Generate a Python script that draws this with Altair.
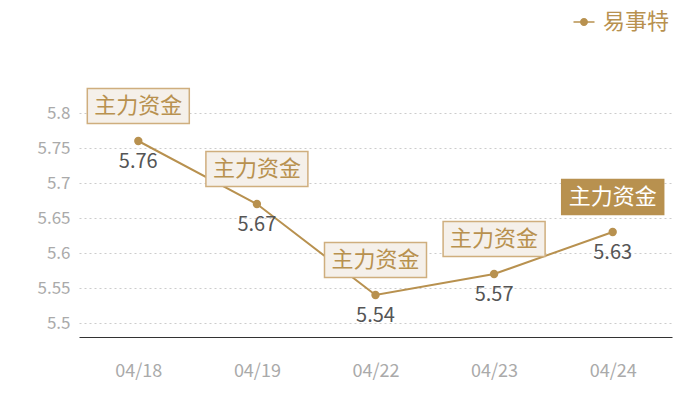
import altair as alt
import pandas as pd

dates = ["04/18", "04/19", "04/22", "04/23", "04/24"]
values = [5.76, 5.67, 5.54, 5.57, 5.63]
tags = ["主力资金", "主力资金", "主力资金", "主力资金", "主力资金"]
highlight = [False, False, False, False, True]
series_name = "易事特"
y_ticks = [5.5, 5.55, 5.6, 5.65, 5.7, 5.75, 5.8]

GOLD = "#b8914f"
FONT = "Noto Sans CJK SC"

df = pd.DataFrame({
    "date": dates,
    "value": values,
    "tag": tags,
    "hl": highlight,
    "series": [series_name] * len(dates),
})

x = alt.X("date:N", sort=dates,
          scale=alt.Scale(type="point", padding=0.5),
          axis=alt.Axis(title=None, labelAngle=0, ticks=False, domain=True,
                        domainColor="#333333", domainWidth=1.2, grid=False,
                        labelColor="#aaaaaa", labelFontSize=18, labelFont=FONT,
                        labelPadding=25))
y = alt.Y("value:Q",
          scale=alt.Scale(domain=[5.48, 5.8], nice=False, zero=False),
          axis=alt.Axis(title=None, values=y_ticks, format=".3~g", ticks=False,
                        domain=False, grid=True, gridColor="#cccccc",
                        gridDash=[2, 3], gridWidth=1,
                        labelColor="#aaaaaa", labelFontSize=17, labelFont=FONT,
                        labelPadding=9))

base = alt.Chart(df)

line = base.mark_line(color=GOLD, strokeWidth=2).encode(x=x, y=y)

legend_path = ("M-1,-0.065 L1,-0.065 L1,0.065 L-1,0.065 Z "
               "M-0.38,0 A0.38,0.38 0 1,1 0.38,0 A0.38,0.38 0 1,1 -0.38,0 Z")

points = base.mark_point(filled=True, size=70, opacity=1).encode(
    x=x, y=y,
    color=alt.Color("series:N", scale=alt.Scale(range=[GOLD]),
                    legend=alt.Legend(title=None, orient="none",
                                      legendX=494, legendY=-102,
                                      symbolType=legend_path, symbolSize=441,
                                      symbolStrokeWidth=0,
                                      labelFontSize=22, labelFont=FONT,
                                      labelColor=GOLD, labelOffset=8,
                                      padding=0)),
)

box_path = "M-1,-0.343 L1,-0.343 L1,0.343 L-1,0.343 Z"

boxes = base.mark_point(shape=box_path, size=10404, filled=True, yOffset=-35,
                        strokeWidth=1.5, opacity=1).encode(
    x=x, y=y,
    fill=alt.condition("datum.hl", alt.value(GOLD), alt.value("#f5f0ea")),
    stroke=alt.condition("datum.hl", alt.value(GOLD), alt.value("#cfae7e")),
)

tag_text = base.mark_text(dy=-35, fontSize=22, font=FONT, baseline="middle",
                          align="center").encode(
    x=x, y=y, text="tag:N",
    color=alt.condition("datum.hl", alt.value("#ffffff"), alt.value(GOLD)),
)

val_text = base.mark_text(dy=21, fontSize=20, font=FONT, baseline="middle",
                          align="center", color="#555555").encode(
    x=x, y=y, text=alt.Text("value:Q", format=".2f"),
)

chart = alt.layer(line, points, boxes, tag_text, val_text).properties(
    width=593, height=224,
    background="#ffffff",
    autosize=alt.AutoSizeParams(type="none"),
    padding={"left": 71, "top": 105, "right": 16, "bottom": 46},
).configure_view(stroke=None)

chart.save("out.html", embed_options={"renderer": "svg", "actions": False})
